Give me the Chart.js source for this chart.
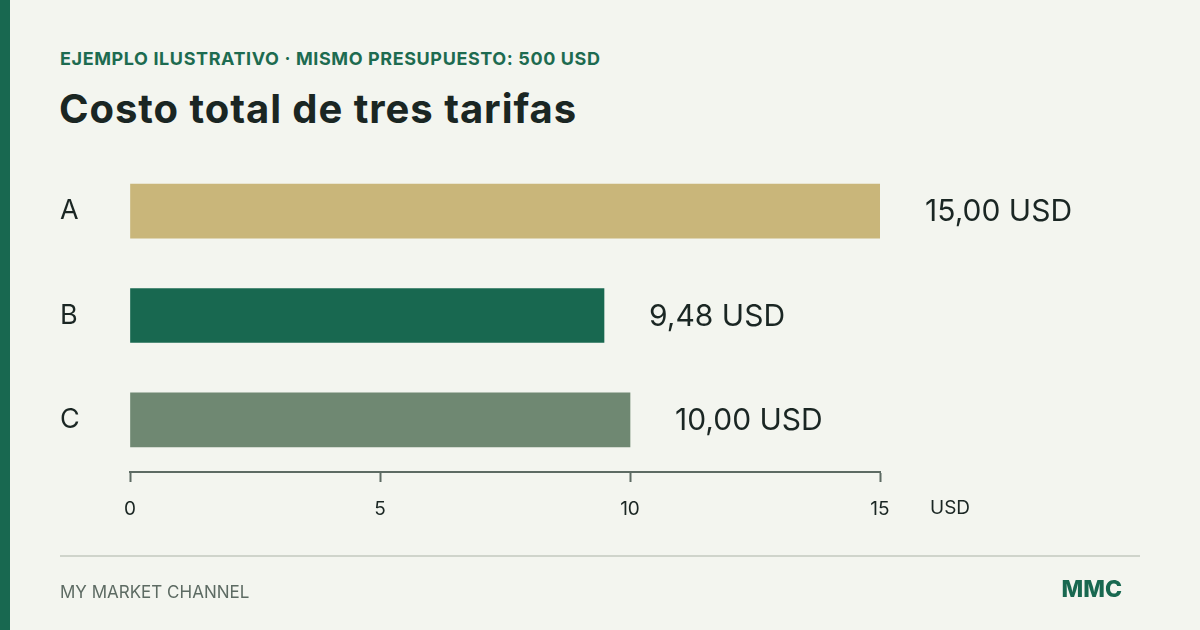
<!DOCTYPE html>
<html>
<head>
<meta charset="utf-8">
<script src="https://cdn.jsdelivr.net/npm/chart.js@4.4.1/dist/chart.umd.min.js"></script>
<style>
  html, body { margin: 0; padding: 0; }
  body {
    width: 1200px; height: 630px; overflow: hidden; position: relative;
    background: #f3f5ef; font-family: Inter, "Noto Sans", sans-serif;
  }
  .stripe { position: absolute; left: 0; top: 0; width: 10px; height: 630px; background: #186850; }
  .kicker { position: absolute; left: 60px; top: 50px; line-height: 1; font-size: 18px; font-weight: 700; color: #1d6b50; letter-spacing: 0.6px; }
  .title { position: absolute; left: 59px; top: 89px; line-height: 1; font-size: 40px; font-weight: 700; color: #1a2623; letter-spacing: 0.95px; }
  .rule { position: absolute; left: 60px; top: 555px; width: 1080px; height: 2px; background: #cfd4cb; }
  .brand { position: absolute; left: 60px; top: 584px; line-height: 1; font-size: 17px; color: #5d6b63; }
  .logo { position: absolute; right: 78px; top: 578px; line-height: 1; font-size: 23px; font-weight: 800; color: #186850; }
  #wrap { position: absolute; left: 0; top: 0; width: 1200px; height: 630px; }
</style>
</head>
<body>
<div class="stripe"></div>
<div class="kicker">EJEMPLO ILUSTRATIVO · MISMO PRESUPUESTO: 500 USD</div>
<div class="title">Costo total de tres tarifas</div>
<div id="wrap"><canvas id="tarifasChart"></canvas></div>
<div class="rule"></div>
<div class="brand">MY MARKET CHANNEL</div>
<div class="logo">MMC</div>
<script>
// data
const categories = ["A", "B", "C"];
const totals = [15.0, 9.48, 10.0];
const valueLabels = ["15,00 USD", "9,48 USD", "10,00 USD"];
const xTicks = [0, 5, 10, 15];
const axisUnit = "USD";

const barColors = ["#c9b67a", "#186850", "#6f8872"];
const axisColor = "#5d6b63";
const textColor = "#1a2623";

// value labels at the end of each bar + the unit next to the axis
const valueLabelPlugin = {
  id: "value_labels",
  afterDatasetsDraw: (chart) => {
    const { ctx } = chart;
    const meta = chart.getDatasetMeta(0);
    ctx.save();
    ctx.font = "400 30px Inter";
    ctx.fillStyle = textColor;
    ctx.textAlign = "left";
    ctx.textBaseline = "middle";
    meta.data.forEach((bar, i) => {
      ctx.fillText(valueLabels[i], bar.x + 45, bar.y + 1);
    });
    const xScale = chart.scales.x;
    ctx.font = "400 19px Inter";
    ctx.fillStyle = textColor;
    ctx.fillText(axisUnit, xScale.right + 50, 508);
    ctx.restore();
  },
};

const config = {
  type: "bar",
  data: {
    labels: categories,
    datasets: [
      {
        data: totals,
        backgroundColor: barColors,
        borderWidth: 0,
        barThickness: 54,
      },
    ],
  },
  plugins: [valueLabelPlugin],
  options: {
    indexAxis: "y",
    responsive: true,
    maintainAspectRatio: false,
    animation: false,
    layout: {
      padding: { left: 60, right: 320, top: 159, bottom: 98 },
    },
    plugins: {
      legend: { display: false },
      tooltip: { enabled: false },
    },
    scales: {
      x: {
        min: 0,
        max: 15,
        afterBuildTicks: (scale) => {
          scale.ticks = xTicks.map((v) => ({ value: v }));
        },
        afterFit: (scale) => {
          scale.height = 60;
        },
        grid: {
          display: true,
          drawOnChartArea: false,
          drawTicks: true,
          tickLength: 10,
          tickColor: axisColor,
          tickWidth: 2,
        },
        border: { display: true, color: axisColor, width: 2 },
        ticks: {
          color: textColor,
          font: { family: "Inter", size: 19 },
          padding: 16,
        },
      },
      y: {
        afterFit: (scale) => {
          scale.width = 70;
        },
        grid: { display: false },
        border: { display: false },
        ticks: {
          color: textColor,
          crossAlign: "far",
          font: { family: "Inter", size: 27 },
        },
      },
    },
  },
};

const tarifasChart = new Chart(document.getElementById("tarifasChart"), config);
</script>
</body>
</html>
